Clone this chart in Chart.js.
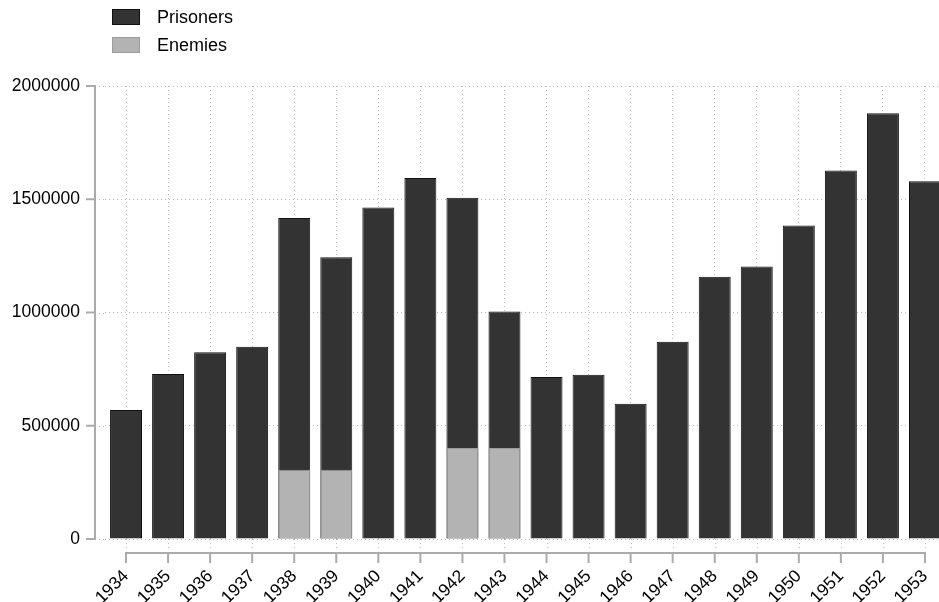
<!DOCTYPE html>
<html>
<head>
<meta charset="utf-8">
<script src="https://cdn.jsdelivr.net/npm/chart.js@4"></script>
<style>
  html, body { margin: 0; padding: 0; background: #fff; overflow: hidden; }
  #wrap { position: relative; width: 960px; height: 602px; }
  #legend { position: absolute; left: 112px; top: 3px; font-family: "Liberation Sans", Arial, sans-serif; font-size: 18px; color: #000; }
  .item { display: flex; align-items: center; height: 28px; }
  .box { width: 26px; height: 14px; margin-right: 17px; border: 1px solid; }
</style>
</head>
<body>
<div id="wrap">
  <canvas id="chart" width="960" height="602"></canvas>
  <div id="legend"></div>
</div>
<script>
const years = ["1934","1935","1936","1937","1938","1939","1940","1941","1942","1943",
               "1944","1945","1946","1947","1948","1949","1950","1951","1952","1953"];
const prisoners = [569000, 729000, 825000, 849000, 1417000, 1244000, 1464000, 1594000, 1507000, 1004000,
                   715000, 725000, 597000, 871000, 1158000, 1203000, 1384000, 1627000, 1880000, 1579000];
const enemies = [null, null, null, null, 306000, 306000, null, null, 402000, 402000,
                 null, null, null, null, null, null, null, null, null, null];
const yTicks = [0, 500000, 1000000, 1500000, 2000000];

const seriesStyle = [
    { label: "Prisoners", fill: "#333333", border: "#111111" },
    { label: "Enemies", fill: "#b3b3b3", border: "#9c9c9c" }
];

// legend built as html so the items stack vertically like the original
const legend = document.getElementById("legend");
seriesStyle.forEach(s => {
    legend.innerHTML += `<div class="item"><span class="box" style="background:${s.fill};border-color:${s.border}"></span>${s.label}</div>`;
});

const gridColor = "#bdbdbd";
const gridDash = [1, 3];

// Stata-like axis lines, pushed off the plot area
const axisLines = {
    id: "axisLines",
    beforeDatasetsDraw(chart) {
        // grid stubs between plot area and the offset axes
        const ctx = chart.ctx;
        const x = chart.scales.x, y = chart.scales.y;
        const area = chart.chartArea;
        ctx.save();
        ctx.strokeStyle = gridColor;
        ctx.lineWidth = 1;
        ctx.setLineDash(gridDash);
        ctx.beginPath();
        yTicks.forEach(v => {
            const py = Math.round(y.getPixelForValue(v)) + 0.5;
            ctx.moveTo(area.left - 10, py);
            ctx.lineTo(area.left, py);
        });
        years.forEach((yr, i) => {
            const px = Math.round(x.getPixelForValue(i)) + 0.5;
            ctx.moveTo(px, area.bottom);
            ctx.lineTo(px, area.bottom + 9);
        });
        ctx.stroke();
        ctx.restore();
    },
    afterDraw(chart) {
        const ctx = chart.ctx;
        const x = chart.scales.x, y = chart.scales.y;
        const area = chart.chartArea;
        ctx.save();
        ctx.strokeStyle = "#ababab";
        ctx.lineWidth = 2;
        const ax = area.left - 10;
        ctx.beginPath();
        ctx.moveTo(ax, y.getPixelForValue(0) + 1);
        ctx.lineTo(ax, y.getPixelForValue(2000000) - 1);
        yTicks.forEach(v => {
            const py = y.getPixelForValue(v);
            ctx.moveTo(ax - 9, py);
            ctx.lineTo(ax, py);
        });
        const ay = area.bottom + 14;
        ctx.moveTo(x.getPixelForValue(0) - 1, ay);
        ctx.lineTo(x.getPixelForValue(years.length - 1) + 1, ay);
        years.forEach((yr, i) => {
            const px = x.getPixelForValue(i);
            ctx.moveTo(px, ay);
            ctx.lineTo(px, ay + 10);
        });
        ctx.stroke();
        ctx.restore();
    }
};

const font = { family: "'Liberation Sans', Arial, sans-serif", size: 17.5 };

new Chart(document.getElementById("chart").getContext("2d"), {
    type: "bar",
    data: {
        labels: years,
        datasets: [
            {
                label: seriesStyle[0].label,
                data: prisoners,
                backgroundColor: seriesStyle[0].fill,
                borderColor: seriesStyle[0].border,
                borderWidth: 1,
                grouped: false,
                order: 1
            },
            {
                label: seriesStyle[1].label,
                data: enemies,
                backgroundColor: seriesStyle[1].fill,
                borderColor: seriesStyle[1].border,
                borderWidth: 1,
                grouped: false,
                order: 0
            }
        ]
    },
    options: {
        responsive: false,
        animation: false,
        barPercentage: 0.76,
        categoryPercentage: 1,
        layout: { padding: { left: 0, right: 14, top: 86, bottom: 0 } },
        plugins: {
            legend: { display: false },
            tooltip: { enabled: false }
        },
        scales: {
            x: {
                offset: true,
                border: { display: false, dash: gridDash },
                grid: {
                    offset: false,
                    drawTicks: false,
                    color: gridColor,
                    lineWidth: 1
                },
                ticks: {
                    font: font,
                    color: "#000",
                    minRotation: 45,
                    maxRotation: 45,
                    autoSkip: false,
                    padding: 27
                },
                afterFit(scale) {
                    scale.height = 63;
                    scale.paddingLeft = 0;
                    scale.paddingRight = 0;
                }
            },
            y: {
                min: 0,
                max: 2000000,
                border: { display: false, dash: gridDash },
                grid: {
                    drawTicks: false,
                    color: gridColor,
                    lineWidth: 1
                },
                ticks: {
                    font: font,
                    color: "#000",
                    stepSize: 500000,
                    padding: 25,
                    callback: v => String(v)
                },
                afterFit(scale) {
                    scale.width = 105;
                    scale.paddingTop = 0;
                    scale.paddingBottom = 0;
                }
            }
        }
    },
    plugins: [axisLines]
});
</script>
</body>
</html>
